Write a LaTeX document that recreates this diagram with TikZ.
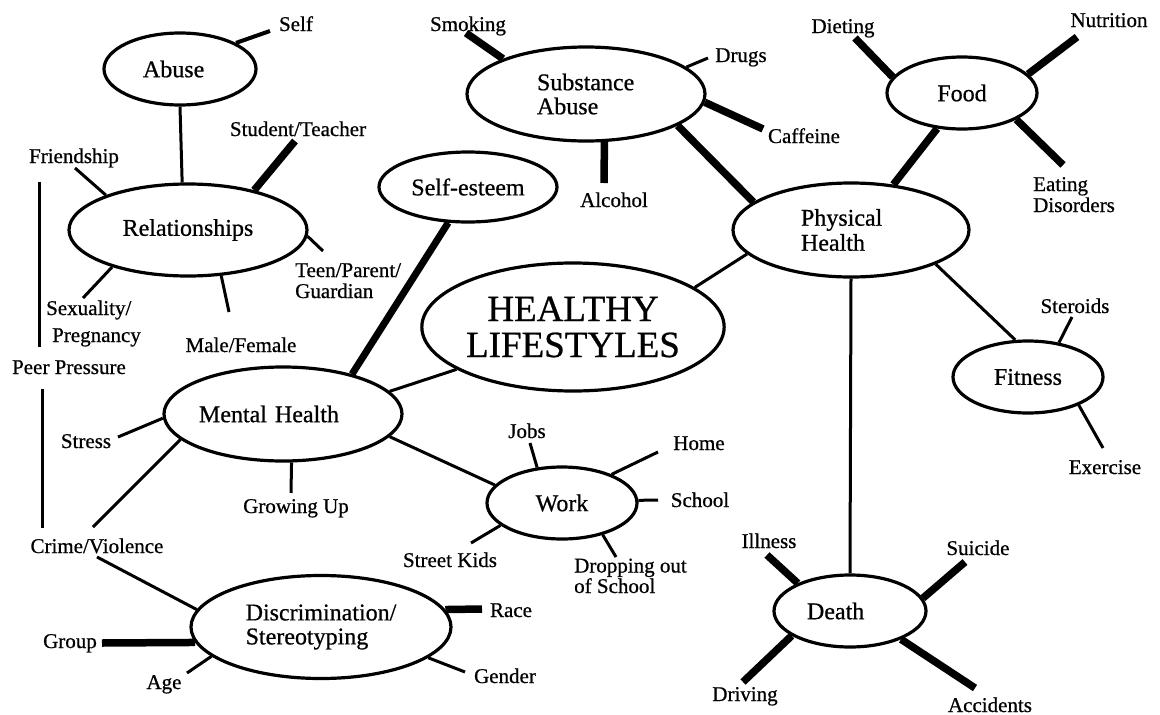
\documentclass[tikz,border=0pt]{standalone}
\usepackage{fontspec}
\setmainfont{Liberation Serif}[FakeBold=0.7]
\usetikzlibrary{shapes.geometric}
\begin{document}
\begin{tikzpicture}[x=1pt,y=-1pt,
  bub/.style={ellipse, draw, line width=3.2pt, inner sep=0pt, font=\fontsize{24}{24}\selectfont},
  lbl/.style={inner sep=0pt, font=\fontsize{21}{21}\selectfont, anchor=base},
  mlbl/.style={inner sep=0pt, font=\fontsize{21}{21}\selectfont, anchor=base west, align=left},
  lnk/.style={line width=3pt},
  hvy/.style={line width=7.5pt},
  mid/.style={line width=4pt}]
\useasboundingbox (0,0) rectangle (1160,715);
% main ellipses
\node[bub, minimum width=152pt, minimum height=72pt, text width=74pt, align=left] (abuse) at (180,69) {Abuse};
\node[bub, minimum width=238pt, minimum height=92pt] (rel) at (188,230) {Relationships};
\node[bub, minimum width=178pt, minimum height=70pt] (selfest) at (468,187) {Self-esteem};
\node[bub, minimum width=238pt, minimum height=94pt, text width=98pt, align=left] (subst) at (586,94) {Substance\\Abuse};
\node[bub, minimum width=302pt, minimum height=128pt, align=center, font=\fontsize{37}{36}\selectfont] (hl) at (573,327) {HEALTHY\\LIFESTYLES};
\node[bub, minimum width=236pt, minimum height=94pt, text width=100pt, align=left, font=\fontsize{24}{25}\selectfont] (phys) at (851,230) {Physical\\Health};
\node[bub, minimum width=150pt, minimum height=72pt] (food) at (962,93) {Food};
\node[bub, minimum width=150pt, minimum height=72pt] (fit) at (1028,377) {Fitness};
\node[bub, minimum width=152pt, minimum height=72pt, text width=86pt, align=left] (death) at (850,611) {Death};
\node[bub, minimum width=238pt, minimum height=94pt, text width=168pt, align=left] (mental) at (283,414) {Mental Health};
\node[bub, minimum width=150pt, minimum height=72pt] (work) at (562,503) {Work};
\node[bub, minimum width=260pt, minimum height=103pt, align=left] (disc) at (321,627) {Discrimination/\\Stereotyping};
% labels
\node[lbl] (lSelf) at (296,31) {Self};
\node[lbl] (lStu) at (298,136) {Student/Teacher};
\node[lbl] (lFri) at (74,163) {Friendship};
\node[mlbl, font=\fontsize{21}{21}\selectfont] (lTeen) at (295,298) {Teen/Parent/\\Guardian};
\node[mlbl, font=\fontsize{21}{27}\selectfont] (lSex) at (46,342) {Sexuality/\\\hspace*{6pt}Pregnancy};
\node[lbl] (lMF) at (241,352) {Male/Female};
\node[lbl] (lPeer) at (69,374) {Peer Pressure};
\node[lbl] (lSmk) at (468,31) {Smoking};
\node[lbl] (lDrg) at (741,62) {Drugs};
\node[lbl] (lCaf) at (804,143) {Caffeine};
\node[lbl] (lAlc) at (614,207) {Alcohol};
\node[lbl] (lDiet) at (843,33) {Dieting};
\node[lbl] (lNut) at (1109,27) {Nutrition};
\node[mlbl] (lEat) at (1033,212) {Eating\\Disorders};
\node[lbl] (lSter) at (1075,313) {Steroids};
\node[lbl] (lExer) at (1105,474) {Exercise};
\node[lbl] (lIll) at (769,548) {Illness};
\node[lbl] (lSui) at (978,555) {Suicide};
\node[lbl] (lDrv) at (745,701) {Driving};
\node[lbl] (lAcc) at (990,712) {Accidents};
\node[lbl] (lStr) at (86,448) {Stress};
\node[lbl] (lGrow) at (296,513) {Growing Up};
\node[lbl] (lCrime) at (97,553) {Crime/Violence};
\node[lbl] (lGrp) at (70,648) {Group};
\node[lbl] (lAge) at (164,689) {Age};
\node[lbl] (lJobs) at (527,438) {Jobs};
\node[lbl] (lHome) at (699,450) {Home};
\node[lbl] (lSch) at (700,507) {School};
\node[lbl] (lStk) at (450,567) {Street Kids};
\node[mlbl, font=\fontsize{21}{20.5}\selectfont] (lDrop) at (574,593) {Dropping out\\of School};
\node[lbl] (lRace) at (511,617) {Race};
\node[lbl] (lGen) at (505,683) {Gender};
% free ends
\coordinate (cSelf) at (270,31);
\coordinate (cStu) at (295,141);
\coordinate (cFri) at (75,168);
\coordinate (cTeen) at (323,251);
\coordinate (cSex) at (83,298);
\coordinate (cMF) at (229,312);
\coordinate (cSmk) at (466,33);
\coordinate (cDrg) at (708,58);
\coordinate (cCaf) at (763,129);
\coordinate (cAlc) at (604,183);
\coordinate (cDiet) at (855,38);
\coordinate (cNut) at (1077,37);
\coordinate (cEat) at (1063,165);
\coordinate (cSter) at (1072,317);
\coordinate (cExer) at (1103,448);
\coordinate (cIll) at (767,555);
\coordinate (cSui) at (965,562);
\coordinate (cDrv) at (743,682);
\coordinate (cAcc) at (975,688);
\coordinate (cStr) at (118,437);
\coordinate (cCr1) at (93,527);
\coordinate (cCr2) at (97,557);
\coordinate (cGrow) at (291,493);
\coordinate (cJobs) at (530,443);
\coordinate (cHome) at (658,452);
\coordinate (cSch) at (658,500);
\coordinate (cStk) at (471,543);
\coordinate (cDrop) at (616,557);
\coordinate (cGrp) at (102,643);
\coordinate (cAge) at (187,673);
\coordinate (cRace) at (482,609);
\coordinate (cGen) at (465,672);
\coordinate (cPP1) at (39,182);
\coordinate (cPP2) at (39,347);
\coordinate (cPP3) at (42,389);
\coordinate (cPP4) at (42,528);
% connectors
\draw[lnk] (abuse.-90) -- (rel.97);
\draw[mid] (abuse.25.3) -- (cSelf);
\draw[hvy] (rel.31.6) -- (cStu);
\draw[lnk] (rel.157.4) -- (cFri);
\draw[lnk] (rel.-3.9) -- (cTeen);
\draw[lnk] (rel.206.9) -- (cSex);
\draw[lnk] (rel.-54.1) -- (cMF);
\draw[line width=7pt] (selfest.-119.6) -- (mental.30.3);
\draw[hvy] (subst.157.7) -- (cSmk);
\draw[lnk] (subst.15.9) -- (cDrg);
\draw[hvy] (subst.-4.8) -- (cCaf);
\draw[hvy] (subst.-69.4) -- (cAlc);
\draw[hvy] (subst.-19) -- (phys.164.6);
\draw[lnk] (hl.18.4) -- (phys.193.5);
\draw[lnk] (hl.200.5) -- (mental.12.4);
\draw[hvy] (food.167.7) -- (cDiet);
\draw[hvy] (food.16.3) -- (cNut);
\draw[hvy] (food.-26) -- (cEat);
\draw[hvy] (food.-125.5) -- (phys.47);
\draw[lnk] (phys.-22) -- (fit.109.6);
\draw[lnk] (fit.48.6) -- (cSter);
\draw[lnk] (fit.-29.2) -- (cExer);
\draw[lnk] (phys.-90) -- (death.90);
\draw[hvy] (death.152.3) -- (cIll);
\draw[hvy] (death.10.2) -- (cSui);
\draw[hvy] (death.203.7) -- (cDrv);
\draw[hvy] (death.-29.2) -- (cAcc);
\draw[lnk] (mental.182.9) -- (cStr);
\draw[lnk] (mental.194.8) -- (cCr1);
\draw[lnk] (mental.-80.5) -- (cGrow);
\draw[lnk] (mental.-12.4) -- (work.165.3);
\draw[lnk] (work.125.5) -- (cJobs);
\draw[lnk] (work.30.9) -- (cHome);
\draw[lnk] (work.2.3) -- (cSch);
\draw[lnk] (work.200.7) -- (cStk);
\draw[lnk] (work.-38.2) -- (cDrop);
\draw[lnk] (cCr2) -- (disc.172.2);
\draw[hvy] (disc.187.1) -- (cGrp);
\draw[lnk] (disc.195.4) -- (cAge);
\draw[hvy] (disc.8.6) -- (cRace);
\draw[lnk] (disc.-16.2) -- (cGen);
\draw[lnk] (cPP1) -- (cPP2);
\draw[lnk] (cPP3) -- (cPP4);
\end{tikzpicture}
\end{document}
